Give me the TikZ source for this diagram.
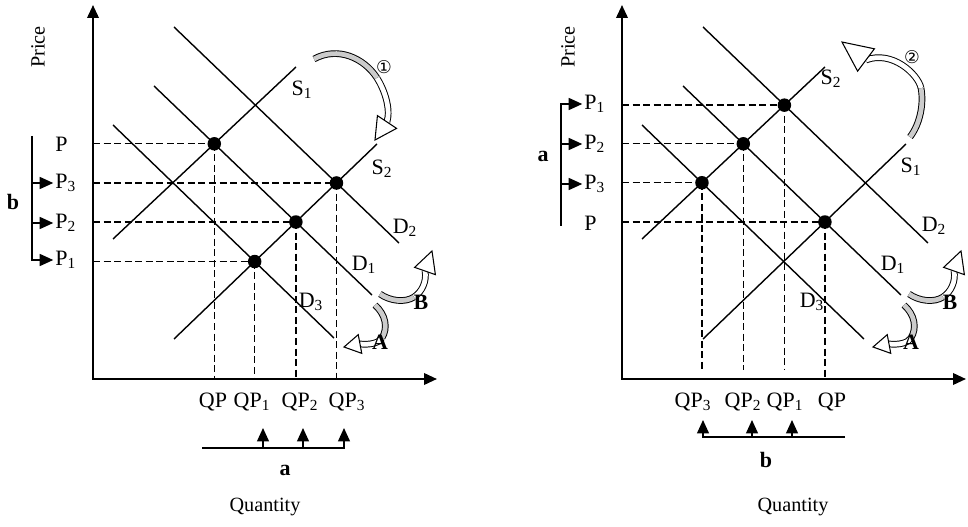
\documentclass[tikz,border=0pt]{standalone}
\usepackage{fontspec}
\setmainfont{Liberation Serif}
\newfontfamily\circfont{DejaVu Sans}
\usetikzlibrary{arrows.meta,calc}
\tikzset{
  axis/.style={line width=1.2pt,
    {Triangle[length=2.6mm,width=2.3mm]}-{Triangle[length=2.6mm,width=2.3mm]}},
  curve/.style={line width=0.8pt},
  guide/.style={line width=0.75pt, dash pattern=on 4pt off 2pt},
  eqdot/.style={circle, fill=black, inner sep=0pt, minimum size=0.27cm},
  lbl/.style={font=\fontsize{12.5}{14}\selectfont, inner sep=0pt},
  boldlbl/.style={font=\fontsize{12.5}{14}\selectfont\bfseries, inner sep=0pt},
  axislbl/.style={font=\fontsize{11.5}{13}\selectfont, inner sep=0pt},
  brk/.style={line width=0.8pt, -{Triangle[length=2.7mm,width=2.4mm]}},
  band/.style={line width=0.55pt, double=#1, double distance=0.095cm},
  band/.default=white,
  headtri/.style={draw, fill=white, line width=0.6pt, line join=miter},
}
\newcommand\hollowhead[3]{%
  \draw[headtri] ($(#1)!#3!90:(#2)$) -- (#2) -- ($(#1)!#3!-90:(#2)$) -- cycle;}

\begin{document}
\begin{tikzpicture}[x=0.02cm, y=-0.02cm]
  \useasboundingbox (0,0) rectangle (968,527);

  % ---------------- left panel ----------------
  \coordinate (oL) at (93,379);
  \coordinate (ytopL) at (93,5);
  \coordinate (xendL) at (437,379);
  \draw[axis] (ytopL) -- (oL) -- (xendL);

  \coordinate (s1aL) at (113,239); \coordinate (s1bL) at (296,67);
  \coordinate (s2aL) at (174,339); \coordinate (s2bL) at (377,144);
  \coordinate (d2aL) at (174,27);  \coordinate (d2bL) at (399,243);
  \coordinate (d1aL) at (154,86);  \coordinate (d1bL) at (372,295);
  \coordinate (d3aL) at (113,125); \coordinate (d3bL) at (334,338);

  \coordinate (eL)  at (intersection of s1aL--s1bL and d1aL--d1bL);
  \coordinate (e3L) at (intersection of s2aL--s2bL and d2aL--d2bL);
  \coordinate (e2L) at (intersection of s2aL--s2bL and d1aL--d1bL);
  \coordinate (e1L) at (intersection of s2aL--s2bL and d3aL--d3bL);

  \foreach \e in {eL,e3L,e2L,e1L} {
    \draw[guide] (\e -| oL) -- (\e);
    \draw[guide] (\e) -- (\e |- oL);
  }

  \draw[curve] (s1aL) -- (s1bL);
  \draw[curve] (s2aL) -- (s2bL);
  \draw[curve] (d2aL) -- (d2bL);
  \draw[curve] (d1aL) -- (d1bL);
  \draw[curve] (d3aL) -- (d3bL);

  \node[eqdot] (deL)  at (eL)  {};
  \node[eqdot] (de3L) at (e3L) {};
  \node[eqdot] (de2L) at (e2L) {};
  \node[eqdot] (de1L) at (e1L) {};

  \node[lbl] (ls1L) at (302,90)  {S\textsubscript{1}};
  \node[lbl] (ls2L) at (382,169) {S\textsubscript{2}};
  \node[lbl] (ld2L) at (405,228) {D\textsubscript{2}};
  \node[lbl] (ld1L) at (364,265) {D\textsubscript{1}};
  \node[lbl] (ld3L) at (311,302) {D\textsubscript{3}};

  % price side
  \node[lbl, anchor=west] (pL)  at (55,144) {P};
  \node[lbl, anchor=west] (p3L) at (55,183) {P\textsubscript{3}};
  \node[lbl, anchor=west] (p2L) at (55,223) {P\textsubscript{2}};
  \node[lbl, anchor=west] (p1L) at (55,260) {P\textsubscript{1}};
  \coordinate (btL) at (32,136);
  \draw[brk, shorten >=1pt] (btL) |- (p1L.west);
  \draw[brk, shorten >=1pt] (p3L.west -| btL) -- (p3L.west);
  \draw[brk, shorten >=1pt] (p2L.west -| btL) -- (p2L.west);
  \node[boldlbl] (bL) at (13,202) {b};
  \node[axislbl, rotate=90] (priceL) at (38,47) {Price};

  % quantity side
  \node[lbl] (qL)  at (213,402) {QP};
  \node[lbl] (q1L) at (252,402) {QP\textsubscript{1}};
  \node[lbl] (q2L) at (300,402) {QP\textsubscript{2}};
  \node[lbl] (q3L) at (347,402) {QP\textsubscript{3}};
  \coordinate (qbaL) at (202,448);
  \coordinate (qt1L) at (263,428);
  \coordinate (qt2L) at (303,428);
  \coordinate (qt3L) at (344,428);
  \draw[brk] (qbaL) -| (qt3L);
  \draw[brk] (qt1L |- qbaL) -- (qt1L);
  \draw[brk] (qt2L |- qbaL) -- (qt2L);
  \node[boldlbl] (aL) at (285,470) {a};
  \node[axislbl] (quantL) at (265,507) {Quantity};

  % shift arrows
  \draw[band=gray!40] (314,59) .. controls (338,46) and (364,58) .. (377,78);
  \draw[band] (377,78) .. controls (384,89) and (391,108) .. (387,122);
  \coordinate (h1m) at (387,122); \coordinate (h1t) at (375,140);
  \hollowhead{h1m}{h1t}{0.23cm}
  \node[font=\circfont\fontsize{10}{10}\selectfont, inner sep=0pt] (n1) at (384,67) {①};

  \draw[band=gray!40] (375,305) .. controls (386,315) and (388,328) .. (382,338);
  \draw[band] (382,338) .. controls (379,343) and (370,345) .. (360,344);
  \coordinate (hAm) at (360,344); \coordinate (hAt) at (344,347);
  \hollowhead{hAm}{hAt}{0.19cm}
  \node[boldlbl] (lAL) at (380,342) {A};

  \draw[band=gray!40] (380,294) .. controls (390,301) and (405,303) .. (414,297);
  \draw[band] (414,297) .. controls (422,292) and (427,281) .. (425,271);
  \coordinate (hBm) at (425,271); \coordinate (hBt) at (432,251);
  \hollowhead{hBm}{hBt}{0.22cm}
  \node[boldlbl] (lBL) at (421,302) {B};

  % ---------------- right panel ----------------
  \coordinate (oR) at (622,379);
  \coordinate (ytopR) at (622,5);
  \coordinate (xendR) at (966,379);
  \draw[axis] (ytopR) -- (oR) -- (xendR);

  \coordinate (s2aR) at (642,239); \coordinate (s2bR) at (825,67);
  \coordinate (s1aR) at (703,339); \coordinate (s1bR) at (906,144);
  \coordinate (d2aR) at (703,27);  \coordinate (d2bR) at (928,243);
  \coordinate (d1aR) at (683,86);  \coordinate (d1bR) at (901,295);
  \coordinate (d3aR) at (642,125); \coordinate (d3bR) at (864,339);

  \coordinate (e1R) at (intersection of s2aR--s2bR and d2aR--d2bR);
  \coordinate (e2R) at (intersection of s2aR--s2bR and d1aR--d1bR);
  \coordinate (e3R) at (intersection of s2aR--s2bR and d3aR--d3bR);
  \coordinate (eR)  at (intersection of s1aR--s1bR and d1aR--d1bR);

  \foreach \e in {e1R,e2R,e3R} {
    \draw[guide] (\e -| oR) -- (\e);
    \draw[guide, shorten >=0.18cm] (\e) -- (\e |- oR);
  }
  \draw[guide] (eR -| oR) -- (eR);
  \draw[guide] (eR) -- (eR |- oR);

  \draw[curve] (s2aR) -- (s2bR);
  \draw[curve] (s1aR) -- (s1bR);
  \draw[curve] (d2aR) -- (d2bR);
  \draw[curve] (d1aR) -- (d1bR);
  \draw[curve] (d3aR) -- (d3bR);

  \node[eqdot] (de1R) at (e1R) {};
  \node[eqdot] (de2R) at (e2R) {};
  \node[eqdot] (de3R) at (e3R) {};
  \node[eqdot] (deR)  at (eR)  {};

  \node[lbl] (ls2R) at (831,79)  {S\textsubscript{2}};
  \node[lbl] (ls1R) at (911,167) {S\textsubscript{1}};
  \node[lbl] (ld2R) at (934,226) {D\textsubscript{2}};
  \node[lbl] (ld1R) at (893,265) {D\textsubscript{1}};
  \node[lbl] (ld3R) at (812,302) {D\textsubscript{3}};

  % price side
  \node[lbl, anchor=west] (p1R) at (584,104) {P\textsubscript{1}};
  \node[lbl, anchor=west] (p2R) at (584,144) {P\textsubscript{2}};
  \node[lbl, anchor=west] (p3R) at (584,184) {P\textsubscript{3}};
  \node[lbl, anchor=west] (pR)  at (584,223) {P};
  \coordinate (btR) at (561,226);
  \draw[brk, shorten >=1pt] (btR) |- (p1R.west);
  \draw[brk, shorten >=1pt] (p2R.west -| btR) -- (p2R.west);
  \draw[brk, shorten >=1pt] (p3R.west -| btR) -- (p3R.west);
  \node[boldlbl] (aR) at (543,156) {a};
  \node[axislbl, rotate=90] (priceR) at (568,47) {Price};

  % quantity side
  \node[lbl] (q3R) at (693,402) {QP\textsubscript{3}};
  \node[lbl] (q2R) at (743,402) {QP\textsubscript{2}};
  \node[lbl] (q1R) at (785,402) {QP\textsubscript{1}};
  \node[lbl] (qR)  at (832,402) {QP};
  \coordinate (qbbR) at (845,437);
  \coordinate (qt3R) at (703,420);
  \coordinate (qt2R) at (752,420);
  \coordinate (qt1R) at (792,420);
  \draw[brk] (qbbR) -| (qt3R);
  \draw[brk] (qt2R |- qbbR) -- (qt2R);
  \draw[brk] (qt1R |- qbbR) -- (qt1R);
  \node[boldlbl] (bR) at (766,460) {b};
  \node[axislbl] (quantR) at (793,507) {Quantity};

  % shift arrows
  \draw[band=gray!40] (910,137) .. controls (920,124) and (924,104) .. (921,88);
  \draw[band] (921,88) .. controls (918,74) and (892,50) .. (866,60);
  \coordinate (h2m) at (866,60); \coordinate (h2t) at (842,42);
  \hollowhead{h2m}{h2t}{0.28cm}
  \node[font=\circfont\fontsize{10}{10}\selectfont, inner sep=0pt] (n2) at (912,57) {②};

  \draw[band=gray!40] (904,305) .. controls (915,315) and (917,328) .. (911,338);
  \draw[band] (911,338) .. controls (908,343) and (899,345) .. (889,344);
  \coordinate (hARm) at (889,344); \coordinate (hARt) at (873,347);
  \hollowhead{hARm}{hARt}{0.19cm}
  \node[boldlbl] (lAR) at (911,342) {A};

  \draw[band=gray!40] (909,294) .. controls (919,301) and (934,303) .. (943,297);
  \draw[band] (943,297) .. controls (951,292) and (956,281) .. (954,271);
  \coordinate (hBRm) at (954,271); \coordinate (hBRt) at (961,251);
  \hollowhead{hBRm}{hBRt}{0.22cm}
  \node[boldlbl] (lBR) at (950,302) {B};
\end{tikzpicture}
\end{document}
